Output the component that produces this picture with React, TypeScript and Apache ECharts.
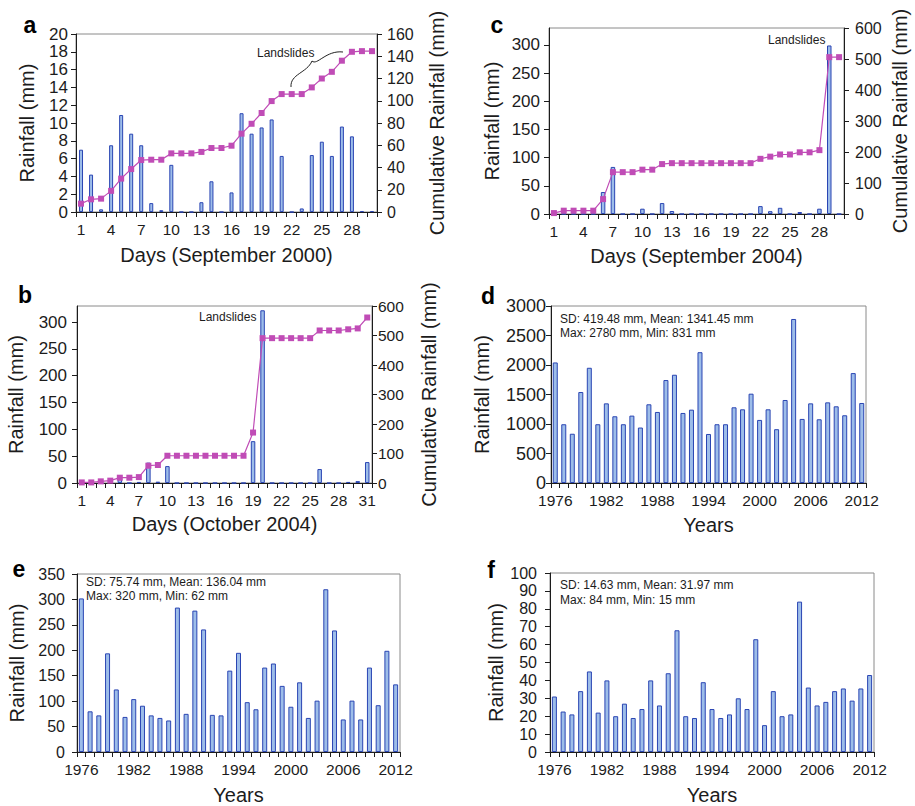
import React, { useEffect, useRef } from "react";
import * as echarts from "echarts";

// ---------- categories ----------
const daysSep = ["1","2","3","4","5","6","7","8","9","10","11","12","13","14","15","16","17","18","19","20","21","22","23","24","25","26","27","28","29","30"];
const daysOct = ["1","2","3","4","5","6","7","8","9","10","11","12","13","14","15","16","17","18","19","20","21","22","23","24","25","26","27","28","29","30","31"];
const years = ["1976","1977","1978","1979","1980","1981","1982","1983","1984","1985","1986","1987","1988","1989","1990","1991","1992","1993","1994","1995","1996","1997","1998","1999","2000","2001","2002","2003","2004","2005","2006","2007","2008","2009","2010","2011","2012"];

// ---------- (a) September 2000 ----------
const rainSep2000 = [7.0, 4.2, 0.3, 7.5, 10.9, 8.8, 7.5, 1.0, 0.2, 5.3, 0, 0, 1.1, 3.45, 0, 2.2, 11.1, 8.8, 9.5, 10.4, 6.3, 0, 0.4, 6.4, 7.9, 6.3, 9.6, 8.5, 0.1, 0.1];
const cumSep2000 = [7.5, 11.4, 12, 19, 30, 38.6, 46.7, 47, 47, 52.7, 52.7, 52.7, 54, 57.5, 57.5, 59.6, 70.4, 79.3, 89, 99.7, 106, 106, 106, 112, 120, 126, 136, 144, 144.6, 144.6];

// ---------- (c) September 2004 ----------
const rainSep2004 = [0, 0, 0, 0, 0, 39, 83.5, 0, 0, 9.4, 0, 19.4, 5.3, 0, 0, 0, 0, 0, 0, 0, 0, 14, 5, 11, 0, 3.5, 0, 9.4, 299, 0];
const cumSep2004 = [3, 10.7, 10.7, 10.7, 10.7, 48, 135, 135, 135, 143, 143, 161, 164, 164, 164, 164, 164, 164, 164, 164, 164, 178, 185, 192, 192, 199, 199, 206, 506, 506];

// ---------- (b) October 2004 ----------
const rainOct2004 = [2, 0, 3.5, 2.5, 8, 0, 2, 38, 2.5, 31.5, 0, 0, 0, 0, 0, 0, 0, 0, 78, 322, 0, 0, 0, 0, 0, 26, 0, 0, 2, 3.5, 39];
const cumOct2004 = [2, 2, 5.6, 8, 18, 18, 20, 58.6, 61, 92.4, 92.4, 92.4, 92.4, 92.4, 92.4, 92.4, 92.4, 92.4, 171, 491, 491, 491, 491, 491, 491, 517, 517, 517, 521, 524, 561];

// ---------- (d) annual rainfall ----------
const annualRain = [2043, 996, 835, 1542, 1953, 996, 1350, 1131, 996, 1142, 940, 1334, 1204, 1745, 1835, 1187, 1243, 2217, 831, 996, 996, 1283, 1249, 1514, 1069, 1249, 912, 1407, 2780, 1086, 1350, 1080, 1367, 1300, 1148, 1863, 1356];

// ---------- (e) ----------
const rainE = [302, 80, 72, 194, 123, 69, 104, 91, 72, 67, 62, 284, 75, 278, 241, 73, 72, 160, 195, 98, 84, 166, 174, 130, 89, 137, 67, 101, 320, 239, 64, 101, 64, 166, 92, 199, 133];

// ---------- (f) ----------
const rainF = [31, 22.6, 21, 34, 45, 22, 40, 20, 27, 19, 24, 40, 26, 44, 68, 20, 19, 39, 24, 19, 21, 30, 24, 63, 15, 34, 20, 21, 84, 36, 26, 28, 34, 35.5, 28.7, 35.5, 43];

// ---------- texts ----------
const statsD = ["SD: 419.48 mm, Mean: 1341.45 mm", "Max: 2780 mm, Min: 831 mm"];
const statsE = ["SD: 75.74 mm, Mean: 136.04 mm", "Max: 320 mm, Min: 62 mm"];
const statsF = ["SD: 14.63 mm, Mean: 31.97 mm", "Max: 84 mm, Min: 15 mm"];

const FONT = "'Liberation Sans', Arial, Helvetica, sans-serif";
const INK = "#1c1c1c";
const BAR_FILL = "#9dbde9";
const BAR_BORDER = "#2a45b3";
const LINE = "#c04cb6";
const X_TICK_FS = 15.5;
const NAME_FS = 20;

function grid(left: number, top: number, width: number, height: number) {
  return { left, top, width, height, show: true, borderColor: "#8a8a8a", borderWidth: 1, containLabel: false, outerBoundsMode: "none" };
}

function xCat(gridIndex: number, data: string[], interval: number, name: string, nameGap: number) {
  return {
    type: "category",
    gridIndex,
    data,
    name,
    nameLocation: "middle",
    nameGap,
    nameTextStyle: { fontSize: NAME_FS, color: INK, fontFamily: FONT },
    boundaryGap: true,
    axisLine: { show: true, lineStyle: { color: INK, width: 1 } },
    axisTick: { show: true, interval: 0, length: 5, lineStyle: { color: INK, width: 1 } },
    axisLabel: { interval, fontSize: X_TICK_FS, color: INK, fontFamily: FONT, margin: 9 },
    splitLine: { show: false },
  };
}

function yVal(
  gridIndex: number,
  position: string,
  max: number,
  interval: number,
  name: string,
  nameGap: number,
  fontSize: number,
  margin: number,
  hideMax = false
) {
  return {
    type: "value",
    gridIndex,
    position,
    min: 0,
    max,
    interval,
    name,
    nameLocation: "middle",
    nameGap,
    nameRotate: 90,
    nameTextStyle: { fontSize: NAME_FS, color: INK, fontFamily: FONT },
    axisLine: { show: true, lineStyle: { color: INK, width: 1 } },
    axisTick: { show: true, length: 5, lineStyle: { color: INK, width: 1 } },
    axisLabel: {
      fontSize,
      color: INK,
      fontFamily: FONT,
      margin,
      showMaxLabel: !hideMax,
      formatter: (v: number) => (v % interval === 0 ? String(v) : ""),
    },
    splitLine: { show: false },
  };
}

function bars(xi: number, yi: number, data: number[], barWidth: number) {
  return {
    type: "bar",
    xAxisIndex: xi,
    yAxisIndex: yi,
    data,
    barWidth,
    itemStyle: { color: BAR_FILL, borderColor: BAR_BORDER, borderWidth: 1 },
    z: 2,
  };
}

function cumLine(xi: number, yi: number, data: number[]) {
  return {
    type: "line",
    xAxisIndex: xi,
    yAxisIndex: yi,
    data,
    symbol: "rect",
    symbolSize: 6,
    showSymbol: true,
    lineStyle: { color: LINE, width: 1.2 },
    itemStyle: { color: LINE },
    z: 3,
  };
}

function letter(ch: string, x: number, y: number) {
  return {
    type: "text",
    x,
    y,
    style: { text: ch, fontSize: 23, fontWeight: "bold", fontFamily: FONT, fill: "#000", align: "center", verticalAlign: "middle" },
    z: 10,
  };
}

function note(text: string, x: number, y: number) {
  return {
    type: "text",
    x,
    y,
    style: { text, fontSize: 12, fontFamily: FONT, fill: INK, align: "left", verticalAlign: "middle" },
    z: 10,
  };
}

export default function App() {
  const ref = useRef<HTMLDivElement>(null);

  useEffect(() => {
    document.body.style.margin = "0";
    if (!ref.current) return;
    const chart = echarts.init(ref.current, null, { renderer: "svg" });

    const option: any = {
      animation: false,
      textStyle: { fontFamily: FONT },
      grid: [
        grid(76, 34, 301, 178),   // a
        grid(549, 28, 295, 186),  // c
        grid(77, 306, 295, 177),  // b
        grid(551, 306, 315, 177), // d
        grid(77, 574, 323, 178),  // e
        grid(550, 573, 324, 179), // f
      ],
      xAxis: [
        xCat(0, daysSep, 2, "Days (September 2000)", 33),
        xCat(1, daysSep, 2, "Days (September 2004)", 32),
        xCat(2, daysOct, 2, "Days (October 2004)", 31),
        xCat(3, years, 5, "Years", 32),
        xCat(4, years, 5, "Years", 33),
        xCat(5, years, 5, "Years", 33),
      ],
      yAxis: [
        yVal(0, "left", 20, 2, "Rainfall (mm)", 39, 17, 8),
        yVal(0, "right", 160, 20, "Cumulative Rainfall (mm)", 50, 16, 10),
        yVal(1, "left", 330, 50, "Rainfall (mm)", 47, 17, 9, true),
        yVal(1, "right", 600, 100, "Cumulative Rainfall (mm)", 46, 16, 11),
        yVal(2, "left", 330, 50, "Rainfall (mm)", 51, 17, 10, true),
        yVal(2, "right", 600, 100, "Cumulative Rainfall (mm)", 47, 15.5, 6),
        yVal(3, "left", 3000, 500, "Rainfall (mm)", 59, 18, 5),
        yVal(4, "left", 350, 50, "Rainfall (mm)", 50, 16, 12),
        yVal(5, "left", 100, 10, "Rainfall (mm)", 43, 16, 13),
      ],
      series: [
        bars(0, 0, rainSep2000, 4),
        cumLine(0, 1, cumSep2000),
        bars(1, 2, rainSep2004, 4.5),
        cumLine(1, 3, cumSep2004),
        bars(2, 4, rainOct2004, 4.5),
        cumLine(2, 5, cumOct2004),
        bars(3, 6, annualRain, 5),
        bars(4, 7, rainE, 5),
        bars(5, 8, rainF, 5),
      ],
      graphic: [
        letter("a", 30, 25),
        letter("c", 497, 25),
        letter("b", 25, 295),
        letter("d", 488, 296),
        letter("e", 19, 569),
        letter("f", 491, 570),
        note("Landslides", 257, 53),
        note("Landslides", 768, 40),
        note("Landslides", 199, 317),
        note(statsD[0], 560, 319),
        note(statsD[1], 560, 333),
        note(statsE[0], 86, 582),
        note(statsE[1], 86, 596),
        note(statsF[0], 560, 585),
        note(statsF[1], 560, 600),
        {
          type: "bezierCurve",
          shape: { x1: 291, y1: 87, cpx1: 290, cpy1: 74, cpx2: 307, cpy2: 73, x2: 312, y2: 61 },
          style: { stroke: "#222", lineWidth: 1, fill: null },
          z: 10,
        },
        {
          type: "bezierCurve",
          shape: { x1: 312, y1: 61, cpx1: 317, cpy1: 66, cpx2: 326, cpy2: 50, x2: 343, y2: 52 },
          style: { stroke: "#222", lineWidth: 1, fill: null },
          z: 10,
        },
      ],
    };

    chart.setOption(option);
    return () => chart.dispose();
  }, []);

  return <div ref={ref} style={{ width: 915, height: 806 }} />;
}
